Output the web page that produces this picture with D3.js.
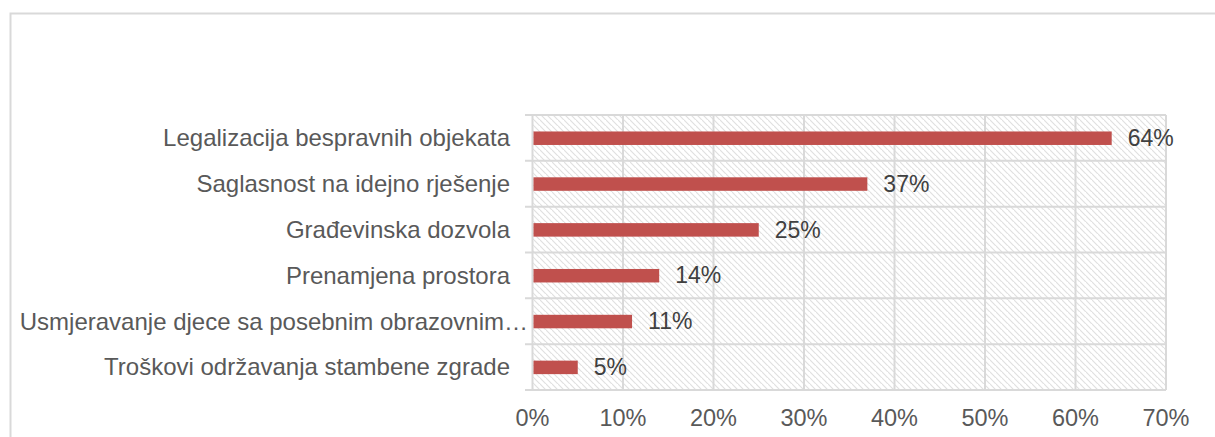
<!DOCTYPE html>
<html><head><meta charset="utf-8">
<script src="https://cdn.jsdelivr.net/npm/d3@7"></script>
<style>body{margin:0;background:#fff}svg{display:block}text{font-family:"Liberation Sans",Arial,sans-serif}</style>
</head><body><svg id="c" width="1215" height="437"></svg>
<script>
const categories = ["Legalizacija bespravnih objekata","Saglasnost na idejno rješenje","Građevinska dozvola","Prenamjena prostora","Usmjeravanje djece sa posebnim obrazovnim…","Troškovi održavanja stambene zgrade"];
const values = [64,37,25,14,11,5];
const tickValues = [0,10,20,30,40,50,60,70];

const svg = d3.select("#c");
const m = {left:532.5, right:1166, top:115, bottom:390};
const x = d3.scaleLinear().domain([0,70]).range([m.left,m.right]);
const y = d3.scaleBand().domain(categories).range([m.top,m.bottom]);

// outer border
svg.append("path").attr("d","M10.5,437 V13.5 H1215").attr("fill","none").attr("stroke","#d9d9d9").attr("stroke-width",2);

const defs = svg.append("defs");
const pat = defs.append("pattern").attr("id","hatch").attr("patternUnits","userSpaceOnUse").attr("width",6).attr("height",6);
pat.append("path").attr("d","M-1,-1 L7,7 M-4,2 L2,8 M4,-4 L10,2").attr("stroke","#e0e0e0").attr("stroke-width",1.2);

svg.append("rect").attr("x",m.left).attr("y",m.top).attr("width",m.right-m.left).attr("height",m.bottom-m.top).attr("fill","url(#hatch)");

// vertical gridlines
svg.append("g").selectAll("line").data(tickValues).join("line")
  .attr("x1",d=>x(d)).attr("x2",d=>x(d)).attr("y1",m.top).attr("y2",m.bottom)
  .attr("stroke","#d9d9d9").attr("stroke-width",2);
// horizontal separators with left ticks
const seps = categories.map(c=>y(c)).concat([m.bottom]);
svg.append("g").selectAll("line").data(seps).join("line")
  .attr("x1",525).attr("x2",m.right).attr("y1",d=>d).attr("y2",d=>d)
  .attr("stroke","#d9d9d9").attr("stroke-width",2);

// bars
const bh = 13.5;
svg.append("g").selectAll("rect").data(values).join("rect")
  .attr("x",x(0)+1).attr("y",(d,i)=>y(categories[i])+y.bandwidth()/2-bh/2+0.3)
  .attr("width",d=>x(d)-x(0)-1).attr("height",bh).attr("fill","#c0504d");

// value labels
svg.append("g").selectAll("text").data(values).join("text")
  .attr("x",d=>x(d)+16).attr("y",(d,i)=>y(categories[i])+y.bandwidth()/2)
  .attr("dy","0.35em").attr("font-size","23px").attr("fill","#404040").text(d=>d+"%");

// category labels
svg.append("g").selectAll("text").data(categories).join("text")
  .attr("x",d=>d.endsWith("…")?528:510).attr("y",d=>y(d)+y.bandwidth()/2).attr("dy","0.35em")
  .attr("text-anchor","end").attr("font-size","24px").attr("fill","#595959").text(d=>d);

// x tick labels
svg.append("g").selectAll("text").data(tickValues).join("text")
  .attr("x",d=>x(d)).attr("y",418).attr("dy","0.35em").attr("text-anchor","middle")
  .attr("font-size","23.5px").attr("fill","#595959").text(d=>d+"%");
</script></body></html>
